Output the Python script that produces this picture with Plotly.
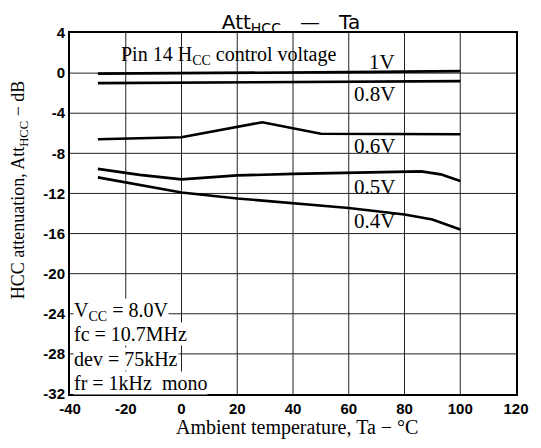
import plotly.graph_objects as go

# Att_HCC vs ambient temperature, one curve per pin 14 control voltage
ta_1v = [-30, 0, 30, 60, 100]
att_1v = [-0.05, -0.02, 0.0, 0.1, 0.2]

ta_08v = [-30, 0, 30, 60, 100]
att_08v = [-1.0, -0.95, -0.9, -0.8, -0.8]

ta_06v = [-30, 0, 29, 50, 100]
att_06v = [-6.6, -6.4, -4.9, -6.05, -6.1]

ta_05v = [-30, -15, 0, 20, 40, 60, 80, 86, 93, 100]
att_05v = [-9.55, -10.15, -10.6, -10.2, -10.05, -9.95, -9.8, -9.8, -10.1, -10.75]

ta_04v = [-30, 0, 20, 40, 60, 80, 90, 100]
att_04v = [-10.4, -11.9, -12.5, -13.0, -13.45, -14.1, -14.6, -15.6]

curve_names = ["1V", "0.8V", "0.6V", "0.5V", "0.4V"]
curve_x = [ta_1v, ta_08v, ta_06v, ta_05v, ta_04v]
curve_y = [att_1v, att_08v, att_06v, att_05v, att_04v]
label_x = [66.5, 61.2, 61.2, 61.2, 61.2]
label_y = [1.15, -2.05, -7.25, -11.35, -14.75]

x_ticks = [-40, -20, 0, 20, 40, 60, 80, 100, 120]
y_ticks = [4, 0, -4, -8, -12, -16, -20, -24, -28, -32]

conditions = ["V<sub>CC</sub> = 8.0V", "fc = 10.7MHz", "dev = 75kHz", "fr = 1kHz  mono"]
cond_y = [-23.8, -26.05, -28.5, -30.9]

serif = "Liberation Serif"
sans = "Liberation Sans"

fig = go.Figure()

# grid drawn as shapes from the tick lists
for v in x_ticks[1:-1]:
    fig.add_shape(type="line", xref="x", yref="paper", x0=v, x1=v, y0=0, y1=1,
                  line=dict(color="#222", width=1), layer="below")
for v in y_ticks[1:-1]:
    fig.add_shape(type="line", xref="paper", yref="y", x0=0, x1=1, y0=v, y1=v,
                  line=dict(color="#222", width=1), layer="below")

for name, xs, ys, lx, ly in zip(curve_names, curve_x, curve_y, label_x, label_y):
    fig.add_trace(go.Scatter(x=xs, y=ys, mode="lines", name=name,
                             line=dict(color="black", width=2.6), showlegend=False))
    fig.add_annotation(x=lx, y=ly, text=name, showarrow=False,
                       xanchor="left", xref="x", yref="y",
                       font=dict(family=serif, size=21, color="black"))

fig.add_annotation(x=16.8, y=1.8, text="Pin 14 H<sub>CC</sub> control voltage",
                   showarrow=False, font=dict(family=serif, size=20, color="black"))

for txt, yy in zip(conditions, cond_y):
    fig.add_annotation(x=-40, y=yy, text=txt, showarrow=False, xanchor="left", xshift=3,
                       bgcolor="white", borderpad=0,
                       font=dict(family=serif, size=20, color="black"))

# axis titles as annotations so they can sit where the original has them
fig.add_annotation(xref="paper", yref="paper", x=-0.113, y=0.566, textangle=-90,
                   xanchor="center", yanchor="middle",
                   text="HCC attenuation, Att<sub>HCC</sub> \u2212 dB", showarrow=False,
                   font=dict(family=serif, size=18, color="black"))
fig.add_annotation(xref="paper", yref="paper", x=0.51, y=-0.094,
                   xanchor="center", yanchor="middle",
                   text="Ambient temperature, Ta \u2212 \u00b0C", showarrow=False,
                   font=dict(family=serif, size=20, color="black"))

# page body has an 8px margin, so the figure is 8px smaller and shifted
fig.update_layout(
    width=533, height=440,
    margin=dict(l=62, r=20, t=25, b=54),
    paper_bgcolor="white", plot_bgcolor="white",
    title=dict(text="Att<sub>HCC</sub>   \u2014   Ta", x=0.531, xanchor="center",
               xref="container", yref="container", y=0.985, yanchor="top",
               font=dict(family="DejaVu Sans", size=20, color="black")),
)

fig.update_xaxes(range=[-40, 120], tickvals=x_ticks, ticktext=[str(v) for v in x_ticks],
                 showgrid=False, zeroline=False,
                 showline=True, linecolor="black", linewidth=2, mirror=True,
                 ticks="", tickfont=dict(family=sans, size=15, color="black", weight="bold"))

fig.update_yaxes(range=[-32, 4], tickvals=y_ticks, ticktext=[str(v) for v in y_ticks],
                 showgrid=False, zeroline=False,
                 showline=True, linecolor="black", linewidth=2, mirror=True,
                 ticks="", tickfont=dict(family=sans, size=15, color="black", weight="bold"))

fig.write_html("out.html")
